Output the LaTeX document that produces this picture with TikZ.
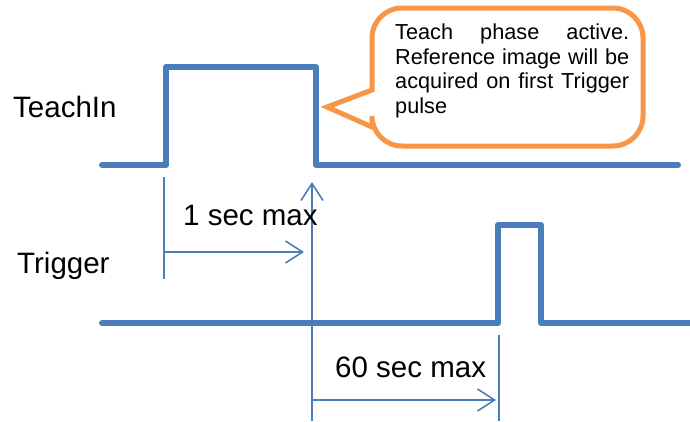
\documentclass[tikz,border=0pt]{standalone}
\usepackage{fontspec}
\setmainfont{Liberation Sans}
\usetikzlibrary{arrows.meta}
\definecolor{sigblue}{HTML}{4A7EBB}
\definecolor{noteorange}{HTML}{F79646}

\begin{document}
\begin{tikzpicture}[x=1pt,y=-1pt,
  signal/.style={line width=6pt, draw=sigblue, line cap=round, line join=round},
  dimline/.style={line width=1.6pt, draw=sigblue},
  dimarrow/.style={dimline, -{Straight Barb[length=17pt,width=22pt,line width=1.6pt]}},
  siglabel/.style={inner sep=0pt, anchor=base west, font=\fontsize{29.5}{34}\selectfont}]
  \useasboundingbox (0,0) rectangle (690,421);

  % signals
  \draw[signal] (102,165) -- (166,165) -- (166,67) -- (316,67) -- (316,165) -- (678,165);
  \draw[signal] (102,323) -- (498,323) -- (498,225) -- (541,225) -- (541,323) -- (693,323);
  \node[siglabel] (teachin) at (13,117) {TeachIn};
  \node[siglabel] (trigger) at (17,273) {Trigger};

  % callout
  \draw[noteorange, line width=5pt, fill=white] (372,90) [rounded corners=30pt] -- (372,8) -- (643,8)
    -- (643,146) -- (372,146) [sharp corners] -- (372,127) -- (327,107) -- cycle;
  \node[anchor=north west, inner sep=0pt, text width=234pt, align=justify,
    font=\fontsize{21.7}{24.5}\selectfont] (note) at (395,24)
    {Teach phase active. Reference image will be acquired on first Trigger pulse};

  % timing marks
  \coordinate (riseTop) at (164,177);
  \coordinate (riseBot) at (164,279);
  \coordinate (oneFrom) at (164,252);
  \coordinate (oneTo) at (304,252);
  \coordinate (fallBot) at (312,421);
  \coordinate (fallTop) at (312,182);
  \coordinate (trigTop) at (499,335);
  \coordinate (trigBot) at (499,421);
  \coordinate (sixtyFrom) at (312,400);
  \coordinate (sixtyTo) at (496,400);
  \draw[dimline] (riseTop) -- (riseBot);
  \draw[dimarrow] (oneFrom) -- (oneTo);
  \draw[dimarrow] (fallBot) -- (fallTop);
  \draw[dimline] (trigTop) -- (trigBot);
  \draw[dimarrow] (sixtyFrom) -- (sixtyTo);
  \node[siglabel] (onesec) at (183,225) {1 sec max};
  \node[siglabel] (sixtysec) at (335,377) {60 sec max};
\end{tikzpicture}
\end{document}
